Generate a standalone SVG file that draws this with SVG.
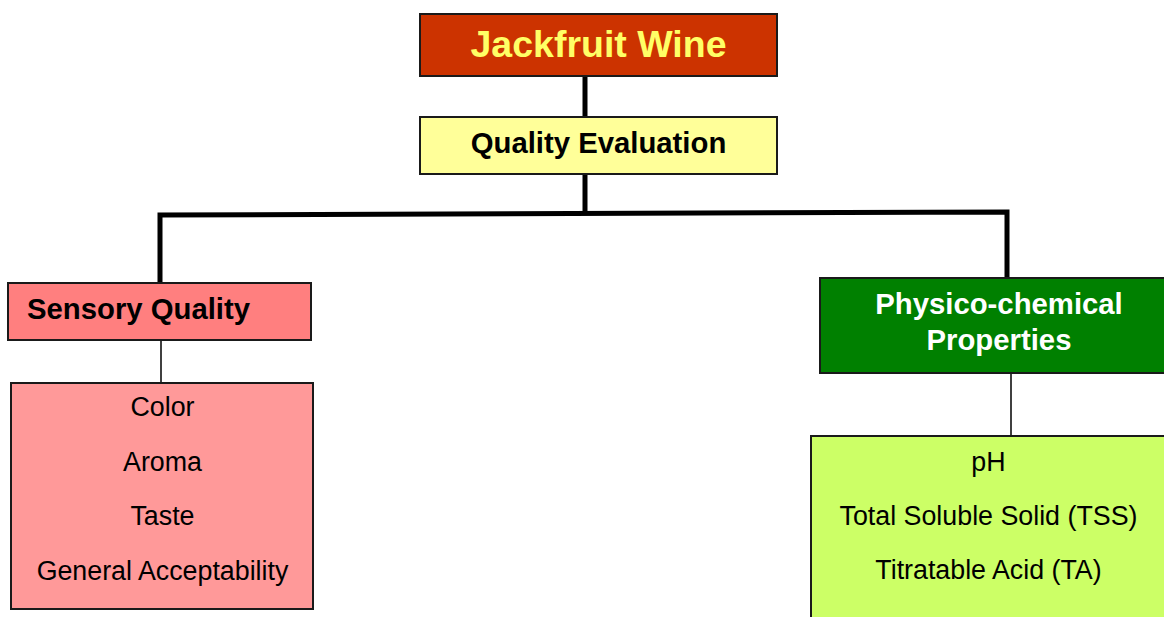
<svg xmlns="http://www.w3.org/2000/svg" width="1164" height="617" viewBox="0 0 1164 617">
<style>
.box{stroke:#1a1a1a;stroke-width:2}
.b{font-family:"Liberation Sans",Arial,sans-serif;font-weight:bold}
.r{font-family:"Liberation Sans",Arial,sans-serif;font-size:26.8px;fill:#000;text-anchor:middle}
.thick{fill:none;stroke:#000;stroke-width:5}
.thin{fill:none;stroke:#000;stroke-width:1.5}
</style>
<rect width="1164" height="617" fill="#fff"/>
<g id="connectors">
<line class="thick" x1="585" y1="77" x2="585" y2="117"/>
<line class="thick" x1="585" y1="174" x2="585" y2="214"/>
<polyline class="thick" points="160,282 160,215 1007,212 1007,277"/>
<line class="thin" x1="161" y1="340" x2="161" y2="383"/>
<line class="thin" x1="1011" y1="373" x2="1011" y2="436"/>
</g>
<g id="jackfruit-wine">
<rect class="box" x="420" y="14" width="357" height="62" fill="#CC3300"/>
<text class="b" x="598.5" y="57" font-size="37.5" fill="#FFFF66" text-anchor="middle">Jackfruit Wine</text>
</g>
<g id="quality-evaluation">
<rect class="box" x="420" y="117" width="357" height="57" fill="#FFFF99"/>
<text class="b" x="598.5" y="153" font-size="29.3" fill="#000" text-anchor="middle">Quality Evaluation</text>
</g>
<g id="sensory-quality">
<rect class="box" x="8" y="283" width="303" height="57" fill="#FF7F7F"/>
<text class="b" x="27" y="319" font-size="29.3" fill="#000">Sensory Quality</text>
</g>
<g id="sensory-list">
<rect class="box" x="11" y="383" width="302" height="226" fill="#FF9999"/>
<text class="r" x="162.5" y="416">Color</text>
<text class="r" x="162.5" y="471">Aroma</text>
<text class="r" x="162.5" y="525">Taste</text>
<text class="r" x="162.5" y="580">General Acceptability</text>
</g>
<g id="physico-chemical">
<rect class="box" x="820" y="278" width="350" height="95" fill="#008000"/>
<text class="b" x="999" y="314" font-size="29.3" fill="#fff" text-anchor="middle">Physico-chemical</text>
<text class="b" x="999" y="350" font-size="29.3" fill="#fff" text-anchor="middle">Properties</text>
</g>
<g id="physico-list">
<rect class="box" x="811" y="436" width="360" height="190" fill="#CCFF66"/>
<text class="r" x="988.5" y="471">pH</text>
<text class="r" x="988.5" y="525">Total Soluble Solid (TSS)</text>
<text class="r" x="988.5" y="579">Titratable Acid (TA)</text>
</g>
</svg>
